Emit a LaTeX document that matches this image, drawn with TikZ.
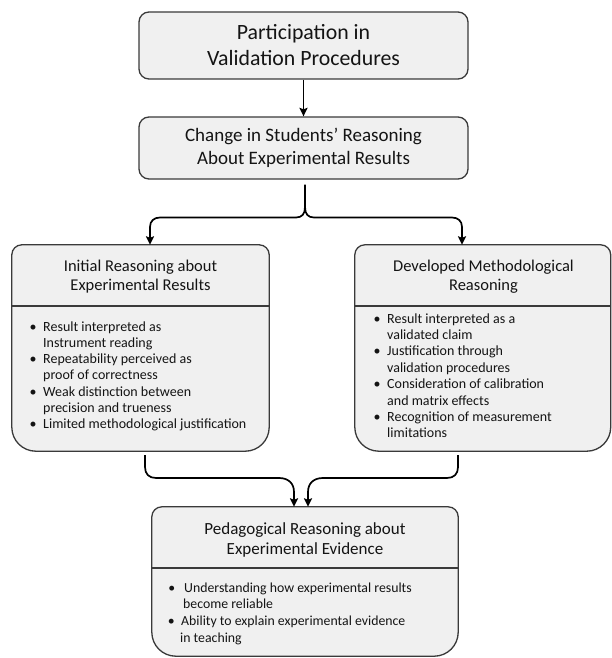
\documentclass[tikz,border=0pt]{standalone}
\usepackage{fontspec}
\setmainfont{Carlito}
\usetikzlibrary{arrows.meta}
\definecolor{boxfill}{HTML}{F0F0F0}
\definecolor{boxline}{HTML}{3A3A3A}
\definecolor{txt}{HTML}{141414}
\tikzset{
  mainbox/.style={draw=boxline, fill=boxfill, line width=1.3pt, rounded corners=10pt, inner sep=0pt, align=center, text=txt},
  areabox/.style={draw=none, inner sep=0pt},
  outline/.style={draw=boxline, fill=boxfill, line width=1.3pt},
  sepline/.style={draw=boxline, line width=1.2pt},
  headtxt/.style={font=\fontsize{16.5}{19}\selectfont, align=center, text=txt, inner sep=0pt},
  bultxt/.style={font=\fontsize{14}{16}\selectfont, anchor=base west, text=txt, inner sep=0pt},
  conn/.style={draw=black, line width=1.7pt},
  arr/.style={-{Stealth[length=8.5pt,width=8pt,inset=1.5pt]}}
}
\newcommand{\twobox}[1]{%
  \path[outline] ([xshift=10pt]#1.north west) -- ([xshift=-10pt]#1.north east)
    .. controls ([xshift=-4.48pt]#1.north east) and ([yshift=-4.48pt]#1.north east) .. ([yshift=-10pt]#1.north east)
    -- ([yshift=24pt]#1.south east)
    .. controls ([yshift=10.75pt]#1.south east) and ([xshift=-10.75pt]#1.south east) .. ([xshift=-24pt]#1.south east)
    -- ([xshift=24pt]#1.south west)
    .. controls ([xshift=10.75pt]#1.south west) and ([yshift=10.75pt]#1.south west) .. ([yshift=24pt]#1.south west)
    -- ([yshift=-10pt]#1.north west)
    .. controls ([yshift=-4.48pt]#1.north west) and ([xshift=4.48pt]#1.north west) .. ([xshift=10pt]#1.north west) -- cycle;}
\newcommand{\bul}{\llap{\textbullet\hspace{6.5pt}}}
\begin{document}
\begin{tikzpicture}[x=1pt,y=-1pt]
\useasboundingbox (0,0) rectangle (611,658);

% top boxes
\node[mainbox, minimum width=329pt, minimum height=67pt, font=\fontsize{21.8}{26}\selectfont] (p) at (303.5,45.5) {Participation in\\Validation Procedures};
\node[mainbox, minimum width=329pt, minimum height=62pt, font=\fontsize{19}{23}\selectfont] (c) at (303.5,148) {Change in Students’ Reasoning\\About Experimental Results};

% lower box areas
\node[areabox, minimum width=257pt, minimum height=206pt] (left) at (140.5,348) {};
\node[areabox, minimum width=255.5pt, minimum height=206pt] (right) at (482.75,348) {};
\node[areabox, minimum width=306pt, minimum height=149pt] (bot) at (305,581.5) {};
\twobox{left}
\twobox{right}
\twobox{bot}
\draw[sepline] (left.west |- 0,306) -- (left.east |- 0,306);
\draw[sepline] (right.west |- 0,306) -- (right.east |- 0,306);
\draw[sepline] (bot.west |- 0,568) -- (bot.east |- 0,568);

% headings
\node[headtxt] (lh) at (140.5,277) {Initial Reasoning about\\Experimental Results};
\node[headtxt] (rh) at (483.5,277) {Developed Methodological\\Reasoning};
\node[headtxt, font=\fontsize{17}{20}\selectfont] (bh) at (305,539.5) {Pedagogical Reasoning about\\Experimental Evidence};

% left bullets
\node[bultxt] (l1) at (43,331) {\bul Result interpreted as};
\node[bultxt] (l2) at (43,347.3) {Instrument reading};
\node[bultxt] (l3) at (43,363.6) {\bul Repeatability perceived as};
\node[bultxt] (l4) at (43,379.9) {proof of correctness};
\node[bultxt] (l5) at (43,396.2) {\bul Weak distinction between};
\node[bultxt] (l6) at (43,412.5) {precision and trueness};
\node[bultxt] (l7) at (43,428.8) {\bul Limited methodological justification};

% right bullets
\node[bultxt] (r1) at (387,323) {\bul Result interpreted as a};
\node[bultxt] (r2) at (387,339.4) {validated claim};
\node[bultxt] (r3) at (387,355.8) {\bul Justification through};
\node[bultxt] (r4) at (387,372.2) {validation procedures};
\node[bultxt] (r5) at (387,388.6) {\bul Consideration of calibration};
\node[bultxt] (r6) at (387,405) {and matrix effects};
\node[bultxt] (r7) at (387,421.4) {\bul Recognition of measurement};
\node[bultxt] (r8) at (387,437.8) {limitations};

% bottom bullets
\node[bultxt, font=\fontsize{13.8}{16}\selectfont] (b1) at (184,592) {\llap{\textbullet\hspace{9pt}}Understanding how experimental results};
\node[bultxt, font=\fontsize{13.8}{16}\selectfont] (b2) at (183,608.7) {become reliable};
\node[bultxt, font=\fontsize{13.8}{16}\selectfont] (b3) at (181,625.4) {\llap{\textbullet\hspace{6.5pt}}Ability to explain experimental evidence};
\node[bultxt, font=\fontsize{13.8}{16}\selectfont] (b4) at (180,642.1) {in teaching};

% connectors
\draw[conn, arr] (p.south) -- (c.north);
\coordinate (bs) at ([shift={(1.5pt,-5pt)}]c.south);
\draw[conn] (bs) -- (305,207) .. controls (305,214) and (302,217.5) .. (296,217.5);
\draw[conn] (305,207) .. controls (305,214) and (308,217.5) .. (314,217.5);
\draw[conn, arr] (296,217.5) -- (160,217.5) .. controls (154,217.5) and (150,221) .. (150,227) -- ([xshift=9.5pt]left.north);
\draw[conn, arr] (314,217.5) -- (452,217.5) .. controls (458,217.5) and (462,221) .. (462,227) -- ([xshift=-20.75pt]right.north);

\coordinate (ls) at ([shift={(4.5pt,-4pt)}]left.south);
\coordinate (rs) at ([shift={(-24.75pt,-4pt)}]right.south);
\draw[conn, arr] (ls) -- (145,467) .. controls (145,474) and (149,478) .. (156,478) -- (279,478) .. controls (288,478) and (294,483) .. (294,492) -- ([xshift=-11pt]bot.north);
\draw[conn, arr] (rs) -- (458,467) .. controls (458,474) and (454,478) .. (447,478) -- (323,478) .. controls (314,478) and (308,483) .. (308,492) -- ([xshift=3pt]bot.north);
\end{tikzpicture}
\end{document}
